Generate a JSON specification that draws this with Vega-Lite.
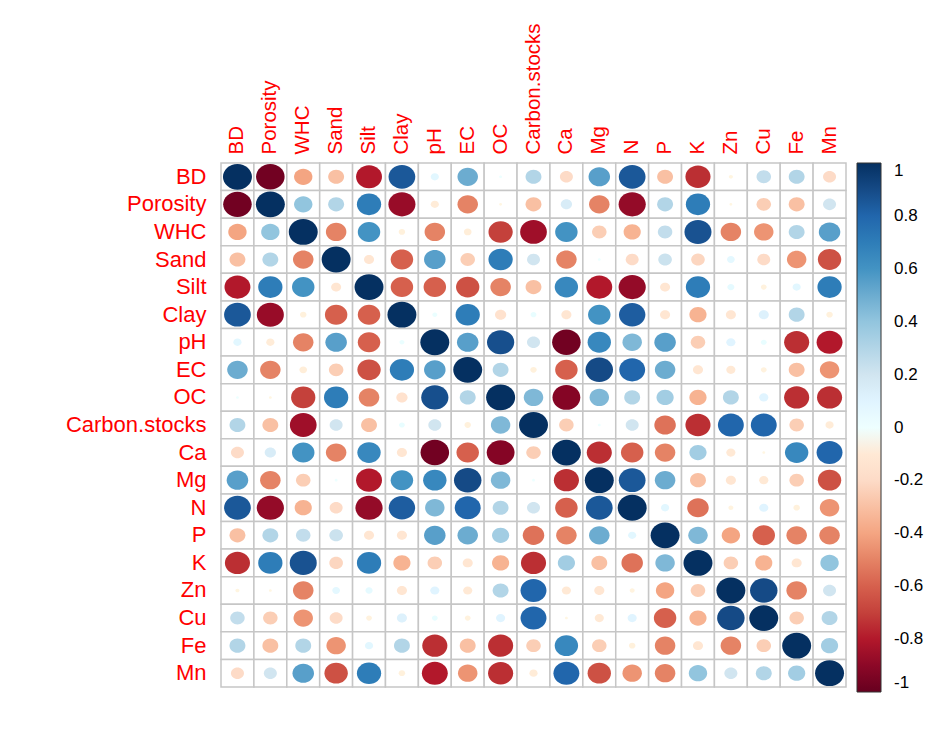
{
"$schema": "https://vega.github.io/schema/vega-lite/v6.json",
"width": 625,
"height": 524,
"autosize": {"type": "none"},
"padding": {"left": 221, "top": 163, "right": 81, "bottom": 55},
"background": "white",
"config": {"view": {"stroke": null}, "font": "Liberation Sans"},
"data": {"values": [
{"row":"BD","col":"BD","r":1},{"row":"BD","col":"Porosity","r":-0.97},{"row":"BD","col":"WHC","r":-0.4},{"row":"BD","col":"Sand","r":-0.3},{"row":"BD","col":"Silt","r":-0.8},{"row":"BD","col":"Clay","r":0.85},{"row":"BD","col":"pH","r":0.08},{"row":"BD","col":"EC","r":0.5},{"row":"BD","col":"OC","r":0.01},{"row":"BD","col":"Carbon.stocks","r":0.3},{"row":"BD","col":"Ca","r":-0.2},{"row":"BD","col":"Mg","r":0.55},{"row":"BD","col":"N","r":0.85},{"row":"BD","col":"P","r":-0.3},{"row":"BD","col":"K","r":-0.75},{"row":"BD","col":"Zn","r":-0.02},{"row":"BD","col":"Cu","r":0.25},{"row":"BD","col":"Fe","r":0.3},{"row":"BD","col":"Mn","r":-0.2},
{"row":"Porosity","col":"BD","r":-0.97},{"row":"Porosity","col":"Porosity","r":1},{"row":"Porosity","col":"WHC","r":0.4},{"row":"Porosity","col":"Sand","r":0.3},{"row":"Porosity","col":"Silt","r":0.7},{"row":"Porosity","col":"Clay","r":-0.87},{"row":"Porosity","col":"pH","r":-0.08},{"row":"Porosity","col":"EC","r":-0.5},{"row":"Porosity","col":"OC","r":-0.01},{"row":"Porosity","col":"Carbon.stocks","r":-0.3},{"row":"Porosity","col":"Ca","r":0.15},{"row":"Porosity","col":"Mg","r":-0.5},{"row":"Porosity","col":"N","r":-0.88},{"row":"Porosity","col":"P","r":0.3},{"row":"Porosity","col":"K","r":0.7},{"row":"Porosity","col":"Zn","r":-0.01},{"row":"Porosity","col":"Cu","r":-0.25},{"row":"Porosity","col":"Fe","r":-0.3},{"row":"Porosity","col":"Mn","r":0.2},
{"row":"WHC","col":"BD","r":-0.4},{"row":"WHC","col":"Porosity","r":0.4},{"row":"WHC","col":"WHC","r":1},{"row":"WHC","col":"Sand","r":-0.5},{"row":"WHC","col":"Silt","r":0.6},{"row":"WHC","col":"Clay","r":-0.05},{"row":"WHC","col":"pH","r":-0.5},{"row":"WHC","col":"EC","r":-0.07},{"row":"WHC","col":"OC","r":-0.7},{"row":"WHC","col":"Carbon.stocks","r":-0.85},{"row":"WHC","col":"Ca","r":0.6},{"row":"WHC","col":"Mg","r":-0.25},{"row":"WHC","col":"N","r":-0.35},{"row":"WHC","col":"P","r":0.25},{"row":"WHC","col":"K","r":0.87},{"row":"WHC","col":"Zn","r":-0.5},{"row":"WHC","col":"Cu","r":-0.45},{"row":"WHC","col":"Fe","r":0.3},{"row":"WHC","col":"Mn","r":0.55},
{"row":"Sand","col":"BD","r":-0.3},{"row":"Sand","col":"Porosity","r":0.3},{"row":"Sand","col":"WHC","r":-0.5},{"row":"Sand","col":"Sand","r":1},{"row":"Sand","col":"Silt","r":-0.12},{"row":"Sand","col":"Clay","r":-0.6},{"row":"Sand","col":"pH","r":0.55},{"row":"Sand","col":"EC","r":-0.25},{"row":"Sand","col":"OC","r":0.7},{"row":"Sand","col":"Carbon.stocks","r":0.2},{"row":"Sand","col":"Ca","r":-0.5},{"row":"Sand","col":"Mg","r":0.01},{"row":"Sand","col":"N","r":-0.2},{"row":"Sand","col":"P","r":0.22},{"row":"Sand","col":"K","r":-0.22},{"row":"Sand","col":"Zn","r":0.07},{"row":"Sand","col":"Cu","r":-0.2},{"row":"Sand","col":"Fe","r":-0.45},{"row":"Sand","col":"Mn","r":-0.65},
{"row":"Silt","col":"BD","r":-0.8},{"row":"Silt","col":"Porosity","r":0.7},{"row":"Silt","col":"WHC","r":0.6},{"row":"Silt","col":"Sand","r":-0.12},{"row":"Silt","col":"Silt","r":1},{"row":"Silt","col":"Clay","r":-0.6},{"row":"Silt","col":"pH","r":-0.6},{"row":"Silt","col":"EC","r":-0.65},{"row":"Silt","col":"OC","r":-0.5},{"row":"Silt","col":"Carbon.stocks","r":-0.3},{"row":"Silt","col":"Ca","r":0.65},{"row":"Silt","col":"Mg","r":-0.8},{"row":"Silt","col":"N","r":-0.88},{"row":"Silt","col":"P","r":-0.12},{"row":"Silt","col":"K","r":0.7},{"row":"Silt","col":"Zn","r":0.06},{"row":"Silt","col":"Cu","r":-0.04},{"row":"Silt","col":"Fe","r":0.08},{"row":"Silt","col":"Mn","r":0.7},
{"row":"Clay","col":"BD","r":0.85},{"row":"Clay","col":"Porosity","r":-0.87},{"row":"Clay","col":"WHC","r":-0.05},{"row":"Clay","col":"Sand","r":-0.6},{"row":"Clay","col":"Silt","r":-0.6},{"row":"Clay","col":"Clay","r":1},{"row":"Clay","col":"pH","r":0.03},{"row":"Clay","col":"EC","r":0.7},{"row":"Clay","col":"OC","r":-0.15},{"row":"Clay","col":"Carbon.stocks","r":0.04},{"row":"Clay","col":"Ca","r":-0.12},{"row":"Clay","col":"Mg","r":0.6},{"row":"Clay","col":"N","r":0.83},{"row":"Clay","col":"P","r":-0.12},{"row":"Clay","col":"K","r":-0.35},{"row":"Clay","col":"Zn","r":-0.12},{"row":"Clay","col":"Cu","r":0.12},{"row":"Clay","col":"Fe","r":0.3},{"row":"Clay","col":"Mn","r":-0.05},
{"row":"pH","col":"BD","r":0.08},{"row":"pH","col":"Porosity","r":-0.08},{"row":"pH","col":"WHC","r":-0.5},{"row":"pH","col":"Sand","r":0.55},{"row":"pH","col":"Silt","r":-0.6},{"row":"pH","col":"Clay","r":0.03},{"row":"pH","col":"pH","r":1},{"row":"pH","col":"EC","r":0.55},{"row":"pH","col":"OC","r":0.88},{"row":"pH","col":"Carbon.stocks","r":0.2},{"row":"pH","col":"Ca","r":-0.97},{"row":"pH","col":"Mg","r":0.65},{"row":"pH","col":"N","r":0.45},{"row":"pH","col":"P","r":0.55},{"row":"pH","col":"K","r":-0.25},{"row":"pH","col":"Zn","r":0.1},{"row":"pH","col":"Cu","r":0.04},{"row":"pH","col":"Fe","r":-0.75},{"row":"pH","col":"Mn","r":-0.8},
{"row":"EC","col":"BD","r":0.5},{"row":"EC","col":"Porosity","r":-0.5},{"row":"EC","col":"WHC","r":-0.07},{"row":"EC","col":"Sand","r":-0.25},{"row":"EC","col":"Silt","r":-0.65},{"row":"EC","col":"Clay","r":0.7},{"row":"EC","col":"pH","r":0.55},{"row":"EC","col":"EC","r":1},{"row":"EC","col":"OC","r":0.3},{"row":"EC","col":"Carbon.stocks","r":-0.05},{"row":"EC","col":"Ca","r":-0.6},{"row":"EC","col":"Mg","r":0.9},{"row":"EC","col":"N","r":0.8},{"row":"EC","col":"P","r":0.5},{"row":"EC","col":"K","r":-0.12},{"row":"EC","col":"Zn","r":-0.1},{"row":"EC","col":"Cu","r":-0.04},{"row":"EC","col":"Fe","r":-0.3},{"row":"EC","col":"Mn","r":-0.45},
{"row":"OC","col":"BD","r":0.01},{"row":"OC","col":"Porosity","r":-0.01},{"row":"OC","col":"WHC","r":-0.7},{"row":"OC","col":"Sand","r":0.7},{"row":"OC","col":"Silt","r":-0.5},{"row":"OC","col":"Clay","r":-0.15},{"row":"OC","col":"pH","r":0.88},{"row":"OC","col":"EC","r":0.3},{"row":"OC","col":"OC","r":1},{"row":"OC","col":"Carbon.stocks","r":0.45},{"row":"OC","col":"Ca","r":-0.92},{"row":"OC","col":"Mg","r":0.45},{"row":"OC","col":"N","r":0.3},{"row":"OC","col":"P","r":0.35},{"row":"OC","col":"K","r":-0.35},{"row":"OC","col":"Zn","r":0.3},{"row":"OC","col":"Cu","r":0.1},{"row":"OC","col":"Fe","r":-0.75},{"row":"OC","col":"Mn","r":-0.75},
{"row":"Carbon.stocks","col":"BD","r":0.3},{"row":"Carbon.stocks","col":"Porosity","r":-0.3},{"row":"Carbon.stocks","col":"WHC","r":-0.85},{"row":"Carbon.stocks","col":"Sand","r":0.2},{"row":"Carbon.stocks","col":"Silt","r":-0.3},{"row":"Carbon.stocks","col":"Clay","r":0.04},{"row":"Carbon.stocks","col":"pH","r":0.2},{"row":"Carbon.stocks","col":"EC","r":-0.05},{"row":"Carbon.stocks","col":"OC","r":0.45},{"row":"Carbon.stocks","col":"Carbon.stocks","r":1},{"row":"Carbon.stocks","col":"Ca","r":-0.25},{"row":"Carbon.stocks","col":"Mg","r":0.01},{"row":"Carbon.stocks","col":"N","r":0.2},{"row":"Carbon.stocks","col":"P","r":-0.55},{"row":"Carbon.stocks","col":"K","r":-0.75},{"row":"Carbon.stocks","col":"Zn","r":0.8},{"row":"Carbon.stocks","col":"Cu","r":0.8},{"row":"Carbon.stocks","col":"Fe","r":-0.25},{"row":"Carbon.stocks","col":"Mn","r":-0.08},
{"row":"Ca","col":"BD","r":-0.2},{"row":"Ca","col":"Porosity","r":0.15},{"row":"Ca","col":"WHC","r":0.6},{"row":"Ca","col":"Sand","r":-0.5},{"row":"Ca","col":"Silt","r":0.65},{"row":"Ca","col":"Clay","r":-0.12},{"row":"Ca","col":"pH","r":-0.97},{"row":"Ca","col":"EC","r":-0.6},{"row":"Ca","col":"OC","r":-0.92},{"row":"Ca","col":"Carbon.stocks","r":-0.25},{"row":"Ca","col":"Ca","r":1},{"row":"Ca","col":"Mg","r":-0.75},{"row":"Ca","col":"N","r":-0.6},{"row":"Ca","col":"P","r":-0.5},{"row":"Ca","col":"K","r":0.35},{"row":"Ca","col":"Zn","r":-0.1},{"row":"Ca","col":"Cu","r":-0.01},{"row":"Ca","col":"Fe","r":0.65},{"row":"Ca","col":"Mn","r":0.8},
{"row":"Mg","col":"BD","r":0.55},{"row":"Mg","col":"Porosity","r":-0.5},{"row":"Mg","col":"WHC","r":-0.25},{"row":"Mg","col":"Sand","r":0.01},{"row":"Mg","col":"Silt","r":-0.8},{"row":"Mg","col":"Clay","r":0.6},{"row":"Mg","col":"pH","r":0.65},{"row":"Mg","col":"EC","r":0.9},{"row":"Mg","col":"OC","r":0.45},{"row":"Mg","col":"Carbon.stocks","r":0.01},{"row":"Mg","col":"Ca","r":-0.75},{"row":"Mg","col":"Mg","r":1},{"row":"Mg","col":"N","r":0.85},{"row":"Mg","col":"P","r":0.5},{"row":"Mg","col":"K","r":-0.3},{"row":"Mg","col":"Zn","r":-0.12},{"row":"Mg","col":"Cu","r":-0.1},{"row":"Mg","col":"Fe","r":-0.25},{"row":"Mg","col":"Mn","r":-0.65},
{"row":"N","col":"BD","r":0.85},{"row":"N","col":"Porosity","r":-0.88},{"row":"N","col":"WHC","r":-0.35},{"row":"N","col":"Sand","r":-0.2},{"row":"N","col":"Silt","r":-0.88},{"row":"N","col":"Clay","r":0.83},{"row":"N","col":"pH","r":0.45},{"row":"N","col":"EC","r":0.8},{"row":"N","col":"OC","r":0.3},{"row":"N","col":"Carbon.stocks","r":0.2},{"row":"N","col":"Ca","r":-0.6},{"row":"N","col":"Mg","r":0.85},{"row":"N","col":"N","r":1},{"row":"N","col":"P","r":0.08},{"row":"N","col":"K","r":-0.55},{"row":"N","col":"Zn","r":-0.03},{"row":"N","col":"Cu","r":0.1},{"row":"N","col":"Fe","r":-0.05},{"row":"N","col":"Mn","r":-0.45},
{"row":"P","col":"BD","r":-0.3},{"row":"P","col":"Porosity","r":0.3},{"row":"P","col":"WHC","r":0.25},{"row":"P","col":"Sand","r":0.22},{"row":"P","col":"Silt","r":-0.12},{"row":"P","col":"Clay","r":-0.12},{"row":"P","col":"pH","r":0.55},{"row":"P","col":"EC","r":0.5},{"row":"P","col":"OC","r":0.35},{"row":"P","col":"Carbon.stocks","r":-0.55},{"row":"P","col":"Ca","r":-0.5},{"row":"P","col":"Mg","r":0.5},{"row":"P","col":"N","r":0.08},{"row":"P","col":"P","r":1},{"row":"P","col":"K","r":0.45},{"row":"P","col":"Zn","r":-0.4},{"row":"P","col":"Cu","r":-0.6},{"row":"P","col":"Fe","r":-0.5},{"row":"P","col":"Mn","r":-0.5},
{"row":"K","col":"BD","r":-0.75},{"row":"K","col":"Porosity","r":0.7},{"row":"K","col":"WHC","r":0.87},{"row":"K","col":"Sand","r":-0.22},{"row":"K","col":"Silt","r":0.7},{"row":"K","col":"Clay","r":-0.35},{"row":"K","col":"pH","r":-0.25},{"row":"K","col":"EC","r":-0.12},{"row":"K","col":"OC","r":-0.35},{"row":"K","col":"Carbon.stocks","r":-0.75},{"row":"K","col":"Ca","r":0.35},{"row":"K","col":"Mg","r":-0.3},{"row":"K","col":"N","r":-0.55},{"row":"K","col":"P","r":0.45},{"row":"K","col":"K","r":1},{"row":"K","col":"Zn","r":-0.25},{"row":"K","col":"Cu","r":-0.35},{"row":"K","col":"Fe","r":-0.12},{"row":"K","col":"Mn","r":0.4},
{"row":"Zn","col":"BD","r":-0.02},{"row":"Zn","col":"Porosity","r":-0.01},{"row":"Zn","col":"WHC","r":-0.5},{"row":"Zn","col":"Sand","r":0.07},{"row":"Zn","col":"Silt","r":0.06},{"row":"Zn","col":"Clay","r":-0.12},{"row":"Zn","col":"pH","r":0.1},{"row":"Zn","col":"EC","r":-0.1},{"row":"Zn","col":"OC","r":0.3},{"row":"Zn","col":"Carbon.stocks","r":0.8},{"row":"Zn","col":"Ca","r":-0.1},{"row":"Zn","col":"Mg","r":-0.12},{"row":"Zn","col":"N","r":-0.03},{"row":"Zn","col":"P","r":-0.4},{"row":"Zn","col":"K","r":-0.25},{"row":"Zn","col":"Zn","r":1},{"row":"Zn","col":"Cu","r":0.9},{"row":"Zn","col":"Fe","r":-0.5},{"row":"Zn","col":"Mn","r":0.2},
{"row":"Cu","col":"BD","r":0.25},{"row":"Cu","col":"Porosity","r":-0.25},{"row":"Cu","col":"WHC","r":-0.45},{"row":"Cu","col":"Sand","r":-0.2},{"row":"Cu","col":"Silt","r":-0.04},{"row":"Cu","col":"Clay","r":0.12},{"row":"Cu","col":"pH","r":0.04},{"row":"Cu","col":"EC","r":-0.04},{"row":"Cu","col":"OC","r":0.1},{"row":"Cu","col":"Carbon.stocks","r":0.8},{"row":"Cu","col":"Ca","r":-0.01},{"row":"Cu","col":"Mg","r":-0.1},{"row":"Cu","col":"N","r":0.1},{"row":"Cu","col":"P","r":-0.6},{"row":"Cu","col":"K","r":-0.35},{"row":"Cu","col":"Zn","r":0.9},{"row":"Cu","col":"Cu","r":1},{"row":"Cu","col":"Fe","r":-0.25},{"row":"Cu","col":"Mn","r":0.3},
{"row":"Fe","col":"BD","r":0.3},{"row":"Fe","col":"Porosity","r":-0.3},{"row":"Fe","col":"WHC","r":0.3},{"row":"Fe","col":"Sand","r":-0.45},{"row":"Fe","col":"Silt","r":0.08},{"row":"Fe","col":"Clay","r":0.3},{"row":"Fe","col":"pH","r":-0.75},{"row":"Fe","col":"EC","r":-0.3},{"row":"Fe","col":"OC","r":-0.75},{"row":"Fe","col":"Carbon.stocks","r":-0.25},{"row":"Fe","col":"Ca","r":0.65},{"row":"Fe","col":"Mg","r":-0.25},{"row":"Fe","col":"N","r":-0.05},{"row":"Fe","col":"P","r":-0.5},{"row":"Fe","col":"K","r":-0.12},{"row":"Fe","col":"Zn","r":-0.5},{"row":"Fe","col":"Cu","r":-0.25},{"row":"Fe","col":"Fe","r":1},{"row":"Fe","col":"Mn","r":0.35},
{"row":"Mn","col":"BD","r":-0.2},{"row":"Mn","col":"Porosity","r":0.2},{"row":"Mn","col":"WHC","r":0.55},{"row":"Mn","col":"Sand","r":-0.65},{"row":"Mn","col":"Silt","r":0.7},{"row":"Mn","col":"Clay","r":-0.05},{"row":"Mn","col":"pH","r":-0.8},{"row":"Mn","col":"EC","r":-0.45},{"row":"Mn","col":"OC","r":-0.75},{"row":"Mn","col":"Carbon.stocks","r":-0.08},{"row":"Mn","col":"Ca","r":0.8},{"row":"Mn","col":"Mg","r":-0.65},{"row":"Mn","col":"N","r":-0.45},{"row":"Mn","col":"P","r":-0.5},{"row":"Mn","col":"K","r":0.4},{"row":"Mn","col":"Zn","r":0.2},{"row":"Mn","col":"Cu","r":0.3},{"row":"Mn","col":"Fe","r":0.35},{"row":"Mn","col":"Mn","r":1}
]},
"encoding": {
  "x": {"field": "col", "type": "nominal",
        "scale": {"domain": ["BD","Porosity","WHC","Sand","Silt","Clay","pH","EC","OC","Carbon.stocks","Ca","Mg","N","P","K","Zn","Cu","Fe","Mn"], "paddingInner": 0, "paddingOuter": 0},
        "axis": {"orient": "top", "title": null, "domain": false, "ticks": false, "labelAngle": -90, "labelAlign": "left", "labelBaseline": "middle", "labelPadding": 9, "labelFontSize": 20.5, "labelColor": "#FF0000", "labelFont": "Liberation Sans", "labelOverlap": false}},
  "y": {"field": "row", "type": "nominal",
        "scale": {"domain": ["BD","Porosity","WHC","Sand","Silt","Clay","pH","EC","OC","Carbon.stocks","Ca","Mg","N","P","K","Zn","Cu","Fe","Mn"], "paddingInner": 0, "paddingOuter": 0},
        "axis": {"title": null, "domain": false, "ticks": false, "labelPadding": 15, "labelFontSize": 22, "labelColor": "#FF0000", "labelFont": "Liberation Sans", "labelOverlap": false}}
},
"layer": [
  {"mark": {"type": "rect", "fill": "white", "stroke": "#C6C6C6", "strokeWidth": 1.5}},
  {"mark": {"type": "point", "filled": true, "opacity": 1, "strokeWidth": 0, "shape": "M-1,0A1,0.89,0,1,0,1,0A1,0.89,0,1,0,-1,0Z"},
   "encoding": {
     "color": {"field": "r", "type": "quantitative",
       "scale": {"type": "linear", "domain": [-1,-0.8,-0.6,-0.4,-0.2,0,0.2,0.4,0.6,0.8,1], "range": ["#67001F","#B2182B","#D6604D","#F4A582","#FDDBC7","#FFFFFF","#D1E5F0","#92C5DE","#4393C3","#2166AC","#053061"]},
       "legend": {"orient": "none", "legendX": 636, "legendY": 0, "title": null, "direction": "vertical", "gradientLength": 529, "gradientThickness": 24, "gradientStrokeColor": "#333333", "gradientStrokeWidth": 1, "values": [1,0.8,0.6,0.4,0.2,0,-0.2,-0.4,-0.6,-0.8,-1], "labelAlign": "left", "labelBaseline": "middle", "labelOffset": 13, "labelFontSize": 17, "labelColor": "#000000", "labelFont": "Liberation Sans", "labelOverlap": false, "padding": 0,
         "labelExpr": "datum.value == 0 ? '0' : (datum.value < 0 ? '-' + format(-datum.value, '~g') : format(datum.value, '~g'))"}},
     "size": {"field": "r", "type": "quantitative", "scale": {"type": "linear", "domain": [-1, 0, 1], "range": [841, 0, 841]}, "legend": null}
   }}
]
}
